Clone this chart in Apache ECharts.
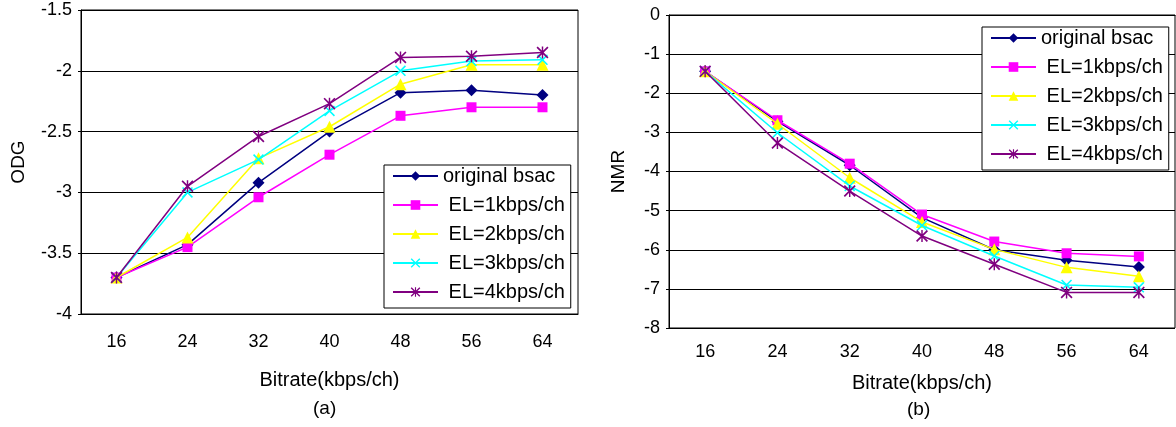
<!DOCTYPE html>
<html>
<head>
<meta charset="utf-8">
<script src="https://cdn.jsdelivr.net/npm/echarts@6/dist/echarts.min.js"></script>
<style>
  html, body { margin: 0; padding: 0; background: #fff; }
  #chart { width: 1176px; height: 427px; }
</style>
</head>
<body>
<div id="chart"></div>
<script>
// bitrate categories shared by both panels
const categories = ['16', '24', '32', '40', '48', '56', '64']
const seriesNames = ['original bsac', 'EL=1kbps/ch', 'EL=2kbps/ch', 'EL=3kbps/ch', 'EL=4kbps/ch']

// (a) ODG
const odgOriginal = [-3.70, -3.43, -2.92, -2.50, -2.18, -2.16, -2.20]
const odgEl1 = [-3.70, -3.45, -3.04, -2.69, -2.37, -2.30, -2.30]
const odgEl2 = [-3.70, -3.37, -2.72, -2.46, -2.11, -1.95, -1.95]
const odgEl3 = [-3.70, -3.00, -2.73, -2.33, -2.00, -1.92, -1.91]
const odgEl4 = [-3.70, -2.95, -2.54, -2.27, -1.89, -1.88, -1.85]

// (b) NMR
const nmrOriginal = [-1.44, -2.72, -3.84, -5.18, -6.00, -6.27, -6.44]
const nmrEl1 = [-1.44, -2.69, -3.80, -5.10, -5.79, -6.09, -6.17]
const nmrEl2 = [-1.44, -2.78, -4.16, -5.29, -5.99, -6.45, -6.68]
const nmrEl3 = [-1.44, -3.01, -4.37, -5.38, -6.16, -6.90, -6.96]
const nmrEl4 = [-1.44, -3.27, -4.50, -5.65, -6.37, -7.09, -7.09]

const colors = ['#000080', '#ff00ff', '#ffff00', '#00ffff', '#800080']
// x mark and asterisk mark, like the excel markers
const crossPath = 'path://M0,1L1,0L10,9L9,10ZM9,0L10,1L1,10L0,9Z'
const starPath = 'path://M0,1L1,0L10,9L9,10ZM9,0L10,1L1,10L0,9ZM4.4,0L5.6,0L5.6,10L4.4,10Z'
const symbols = ['diamond', 'rect', 'triangle', crossPath, starPath]
const symbolSizes = [12, 10, 12, 11, 12]

const sans = '"Liberation Sans", Arial, sans-serif'

function makeSeries (idx, lists) {
  return lists.map((data, i) => ({
    name: seriesNames[i],
    type: 'line',
    xAxisIndex: idx,
    yAxisIndex: idx,
    data: data,
    symbol: symbols[i],
    symbolSize: symbolSizes[i],
    showSymbol: true,
    color: colors[i],
    lineStyle: { width: 1.5, color: colors[i] },
    itemStyle: { color: colors[i] },
    animation: false,
    z: 3 + i
  }))
}

function xAxisOf (idx, margin, gap) {
  return {
    type: 'category',
    gridIndex: idx,
    data: categories,
    boundaryGap: true,
    axisTick: { show: false },
    axisLine: { show: true, lineStyle: { color: '#000' } },
    axisLabel: { margin: margin, color: '#000', fontSize: 18, fontFamily: sans },
    name: 'Bitrate(kbps/ch)',
    nameLocation: 'middle',
    nameGap: gap,
    nameTextStyle: { color: '#000', fontSize: 20, fontFamily: sans }
  }
}

function yAxisOf (idx, min, max, interval, name, gap) {
  return {
    type: 'value',
    gridIndex: idx,
    min: min,
    max: max,
    interval: interval,
    axisLine: { show: true, lineStyle: { color: '#000' } },
    axisTick: { show: true, length: 3, lineStyle: { color: '#000' } },
    splitLine: { show: true, lineStyle: { color: '#000', width: 1 } },
    axisLabel: { margin: 9, color: '#000', fontSize: 18, fontFamily: sans },
    name: name,
    nameLocation: 'middle',
    nameGap: gap,
    nameRotate: 90,
    nameTextStyle: { color: '#000', fontSize: 19, fontFamily: sans }
  }
}

function legendOf (left, top) {
  return {
    orient: 'vertical',
    left: left,
    top: top,
    data: seriesNames.map(n => ({ name: n })),
    formatter: n => (n.indexOf('EL') === 0 ? ' ' + n : n),
    itemWidth: 45,
    itemHeight: 12,
    itemGap: 9,
    padding: [1, 6, 6, 8],
    borderColor: '#000',
    borderWidth: 1,
    backgroundColor: '#fff',
    textStyle: { color: '#000', fontSize: 20, fontFamily: sans },
    selectedMode: false
  }
}

const chart = echarts.init(document.getElementById('chart'))
const option = {
  backgroundColor: '#fff',
  animation: false,
  grid: [
    { left: 81, top: 10, width: 497, height: 304, show: true, borderColor: '#000', borderWidth: 1 },
    { left: 669, top: 15, width: 506, height: 313, show: true, borderColor: '#000', borderWidth: 1 }
  ],
  xAxis: [xAxisOf(0, 19, 56), xAxisOf(1, 15, 45)],
  yAxis: [
    yAxisOf(0, -4, -1.5, 0.5, 'ODG', 53),
    yAxisOf(1, -8, 0, 1, 'NMR', 41)
  ],
  legend: [legendOf(384, 165), legendOf(982, 27)],
  graphic: [
    { type: 'text', left: 313, top: 399, style: { text: '(a)', fill: '#000', fontSize: 19, fontFamily: sans } },
    { type: 'text', left: 907, top: 400, style: { text: '(b)', fill: '#000', fontSize: 19, fontFamily: sans } }
  ],
  series: makeSeries(0, [odgOriginal, odgEl1, odgEl2, odgEl3, odgEl4])
    .concat(makeSeries(1, [nmrOriginal, nmrEl1, nmrEl2, nmrEl3, nmrEl4]))
}
chart.setOption(option)
</script>
</body>
</html>
